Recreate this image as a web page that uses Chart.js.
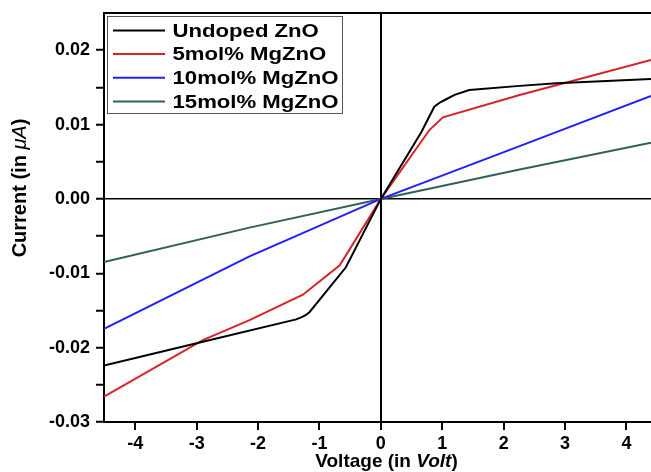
<!DOCTYPE html>
<html>
<head>
<meta charset="utf-8">
<script src="https://cdn.jsdelivr.net/npm/chart.js@4.4.1/dist/chart.umd.min.js"></script>
<style>
  html, body { margin: 0; padding: 0; background: #fff; }
  #wrap { width: 651px; height: 472px; position: relative; }
</style>
</head>
<body>
<div id="wrap"><canvas id="chart"></canvas></div>
<script>
// I-V data (voltage in V, current in uA)
const undopedV = [-4.51, -2.9, -1.38, -1.29, -1.22, -1.16, -0.57, 0, 0.66, 0.87, 0.95, 1.04, 1.2, 1.44, 2.26, 2.86, 4.4];
const undopedI = [-0.0224, -0.0192, -0.0162, -0.0159, -0.0156, -0.0152, -0.0092, 0, 0.0090, 0.0124, 0.0129, 0.0133, 0.0140, 0.01465, 0.0152, 0.01555, 0.01613];

const mg5V = [-4.51, -2.9, -2.14, -1.27, -0.67, 0, 0.79, 1.01, 2.26, 4.4];
const mg5I = [-0.0266, -0.0190, -0.0163, -0.01288, -0.00894, 0, 0.00926, 0.01097, 0.01398, 0.0187];

const mg10V = [-4.51, -2.14, 0, 2.26, 4.4];
const mg10I = [-0.01747, -0.00772, 0, 0.00709, 0.01384];

const mg15V = [-4.51, -2.14, 0, 2.26, 4.4];
const mg15I = [-0.00849, -0.00386, 0, 0.00396, 0.00755];

const seriesLabels = ["Undoped ZnO", "5mol% MgZnO", "10mol% MgZnO", "15mol% MgZnO"];
const seriesColors = ["#000000", "#d8222a", "#1f1fff", "#2f605b"];

const xTicks = [-4, -3, -2, -1, 0, 1, 2, 3, 4];
const yTicks = [-0.03, -0.025, -0.02, -0.015, -0.01, -0.005, 0, 0.005, 0.01, 0.015, 0.02];

const toPoints = (xs, ys) => xs.map((x, i) => ({ x: x, y: ys[i] }));

const FONT = "'Liberation Sans', Arial, sans-serif";

// legend box drawn inside the plot, plus the top frame and axis titles
const decorations = {
  id: "decorations",
  afterDraw(chart) {
    const ctx = chart.ctx;
    const area = chart.chartArea;
    ctx.save();

    // top frame line
    ctx.strokeStyle = "#000";
    ctx.lineWidth = 2;
    ctx.beginPath();
    ctx.moveTo(area.left, area.top);
    ctx.lineTo(area.right, area.top);
    ctx.stroke();

    // legend
    ctx.fillStyle = "#fff";
    ctx.fillRect(107.5, 16.5, 235, 97);
    ctx.strokeStyle = "#555";
    ctx.lineWidth = 1;
    ctx.strokeRect(107.5, 16.5, 235, 97);
    ctx.font = "bold 18px " + FONT;
    ctx.textBaseline = "alphabetic";
    ctx.textAlign = "left";
    chart.data.datasets.forEach((ds, i) => {
      const base = 36.7 + i * 23.7;
      ctx.strokeStyle = ds.borderColor;
      ctx.lineWidth = 2;
      ctx.beginPath();
      ctx.moveTo(113, base - 6.3);
      ctx.lineTo(165, base - 6.3);
      ctx.stroke();
      ctx.save();
      ctx.translate(172.5, base);
      ctx.scale(1.23, 1);
      ctx.fillStyle = "#000";
      ctx.fillText(ds.label, 0, 0);
      ctx.restore();
    });

    const drawParts = (parts, startX, y) => {
      let x = startX;
      parts.forEach((p) => {
        ctx.font = p.font;
        ctx.fillText(p.text, x, y);
        x += ctx.measureText(p.text).width;
      });
    };
    const measureParts = (parts) =>
      parts.reduce((w, p) => {
        ctx.font = p.font;
        return w + ctx.measureText(p.text).width;
      }, 0);

    // x title: Voltage (in Volt)
    ctx.fillStyle = "#000";
    const xParts = [
      { text: "Voltage (in ", font: "bold 19px " + FONT },
      { text: "Volt", font: "italic bold 19px " + FONT },
      { text: ")", font: "bold 19px " + FONT },
    ];
    drawParts(xParts, 386.5 - measureParts(xParts) / 2, 466.5);

    // y title: Current (in μA)
    const yParts = [
      { text: "Current (in ", font: "bold 20px " + FONT },
      { text: "\u03bcA", font: "italic 20px " + FONT },
      { text: ")", font: "bold 20px " + FONT },
    ];
    ctx.translate(25.7, 188);
    ctx.rotate(-Math.PI / 2);
    drawParts(yParts, -measureParts(yParts) / 2, 0);

    ctx.restore();
  },
};

const datasets = [
  toPoints(undopedV, undopedI),
  toPoints(mg5V, mg5I),
  toPoints(mg10V, mg10I),
  toPoints(mg15V, mg15I),
].map((pts, i) => ({
  label: seriesLabels[i],
  data: pts,
  borderColor: seriesColors[i],
  backgroundColor: seriesColors[i],
  borderWidth: 2,
  pointRadius: 0,
  showLine: true,
  fill: false,
  tension: 0,
}));

new Chart(document.getElementById("chart"), {
  type: "scatter",
  data: { datasets: datasets },
  plugins: [decorations],
  options: {
    responsive: true,
    maintainAspectRatio: false,
    animation: false,
    layout: { padding: { top: 13, right: 0, left: 0, bottom: 0 } },
    plugins: {
      legend: { display: false },
      tooltip: { enabled: false },
    },
    scales: {
      x: {
        type: "linear",
        min: -4.51,
        max: 4.4,
        afterBuildTicks: (scale) => {
          scale.ticks = xTicks.map((v) => ({ value: v }));
        },
        afterFit: (scale) => {
          scale.height = 50;
          scale.paddingLeft = 0;
          scale.paddingRight = 0;
        },
        border: { display: true, color: "#000", width: 2 },
        grid: {
          drawOnChartArea: true,
          color: (c) => (c.tick && c.tick.value === 0 ? "#000" : "rgba(0,0,0,0)"),
          lineWidth: 2,
          tickColor: "#000",
          tickLength: 8,
          tickWidth: 2,
        },
        ticks: {
          color: "#000",
          font: { family: FONT, size: 18, weight: "bold" },
          padding: 3,
          maxRotation: 0,
          callback: (v) => String(v),
        },
      },
      y: {
        type: "linear",
        min: -0.03,
        max: 0.025,
        afterBuildTicks: (scale) => {
          scale.ticks = yTicks.map((v) => ({ value: v }));
        },
        afterFit: (scale) => {
          scale.width = 104;
          scale.paddingTop = 0;
          scale.paddingBottom = 0;
        },
        border: { display: true, color: "#000", width: 2 },
        grid: {
          drawOnChartArea: true,
          color: (c) => (c.tick && Math.abs(c.tick.value) < 1e-9 ? "#000" : "rgba(0,0,0,0)"),
          lineWidth: 1.5,
          tickColor: "#000",
          tickLength: 8,
          tickWidth: 2,
        },
        ticks: {
          color: "#000",
          font: { family: FONT, size: 18, weight: "bold" },
          padding: 6,
          callback: (v) => {
            const k = Math.round(v * 1000);
            if (k % 10 !== 0) return "";
            return (k / 1000).toFixed(2);
          },
        },
      },
    },
  },
});
</script>
</body>
</html>
